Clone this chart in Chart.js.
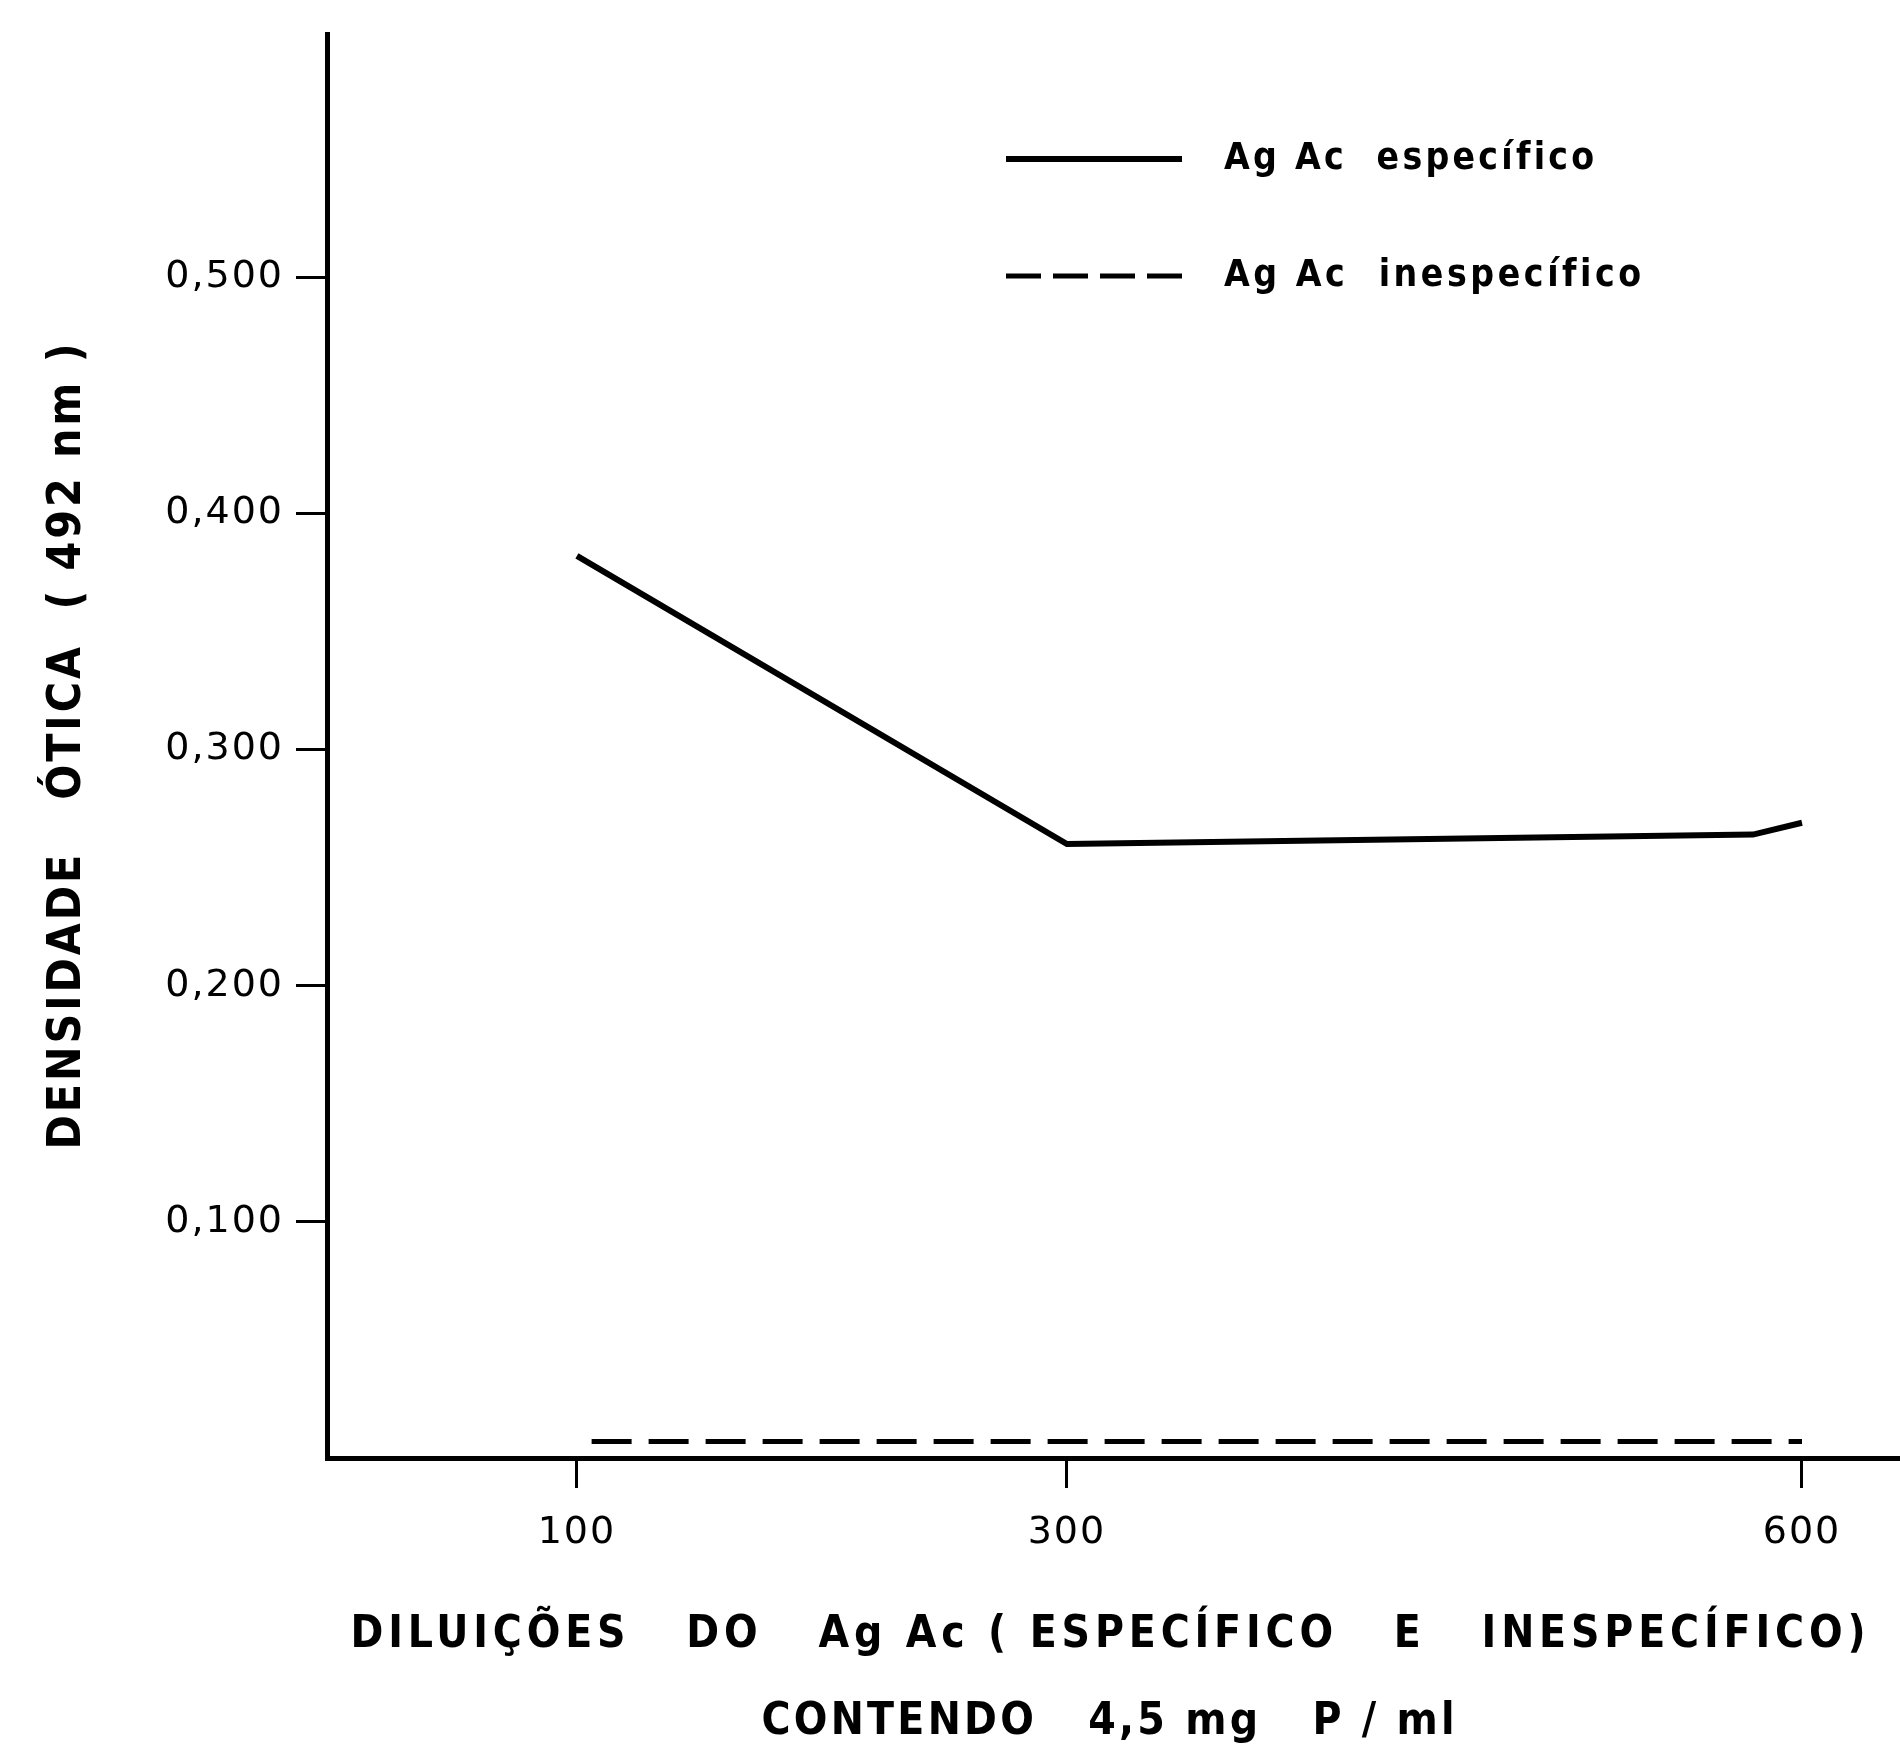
<!DOCTYPE html>
<html lang="pt">
<head>
    <meta charset="UTF-8">
    <title>Densidade ótica x diluições do Ag Ac</title>
    <script src="https://cdn.jsdelivr.net/npm/chart.js"></script>
    <style>
        html, body {
            margin: 0;
            padding: 0;
            background: #fff;
        }
        .container {
            position: relative;
            width: 1900px;
            height: 1748px;
        }
    </style>
</head>
<body>
    <div class="container">
        <canvas id="od-chart"></canvas>
    </div>

    <script>
        // Values
        const dilEspecifico = [100, 300, 580, 600];
        const odEspecifico = [0.382, 0.260, 0.264, 0.269];
        const dilInespecifico = [106, 300, 600];
        const odInespecifico = [0.007, 0.007, 0.007];

        const xTickValues = [100, 300, 600];
        const yTickValues = [0.1, 0.2, 0.3, 0.4, 0.5];

        const seriesLabels = ['Ag Ac  específico', 'Ag Ac  inespecífico'];
        const yTitle = 'DENSIDADE   ÓTICA  ( 492 nm )';
        const xTitle = ['DILUIÇÕES   DO   Ag Ac ( ESPECÍFICO   E   INESPECÍFICO)', 'CONTENDO   4,5 mg   P / ml'];

        const titleFont = 'bold 44px "DejaVu Sans Condensed", "DejaVu Sans", sans-serif';

        // draw text spread out to a given width (the original lettering is widely spaced)
        function spacedText(ctx, text, cx, cy, width, font, align) {
            ctx.save();
            ctx.font = font;
            ctx.letterSpacing = '0px';
            const plain = ctx.measureText(text).width;
            const gap = Math.max(0, (width - plain) / (text.length - 1));
            ctx.letterSpacing = gap + 'px';
            ctx.fillStyle = '#000';
            ctx.textBaseline = 'middle';
            ctx.textAlign = 'left';
            if (align === 'left') {
                ctx.fillText(text, cx, cy);
            } else {
                ctx.fillText(text, cx - width / 2, cy);
            }
            ctx.restore();
        }

        const paperText = {
            id: 'paperText',
            beforeDraw(chart) {
                chart.ctx.letterSpacing = '2px';
            },
            afterDraw(chart) {
                const ctx = chart.ctx;
                const area = chart.chartArea;

                // y axis title, rotated
                ctx.save();
                ctx.translate(68, (area.top + area.bottom) / 2);
                ctx.rotate(-Math.PI / 2);
                spacedText(ctx, yTitle, 0, 0, 806, 'bold 46px "DejaVu Sans Condensed", "DejaVu Sans", sans-serif');
                ctx.restore();

                // x axis title, two lines
                spacedText(ctx, xTitle[0], 1108, 1636, 1515, titleFont);
                spacedText(ctx, xTitle[1], 1108, 1723, 693, titleFont);

                // legend: short samples of each line, 4 dashes for the dashed one
                const rows = [159, 276];
                const widths = [369, 416];
                chart.data.datasets.forEach((ds, i) => {
                    ctx.save();
                    ctx.strokeStyle = ds.borderColor;
                    ctx.lineWidth = ds.borderWidth;
                    ctx.setLineDash(ds.borderDash ? [35, 12] : []);
                    ctx.beginPath();
                    ctx.moveTo(1006, rows[i]);
                    ctx.lineTo(1182, rows[i]);
                    ctx.stroke();
                    ctx.restore();
                    spacedText(ctx, ds.label, 1224, rows[i], widths[i], 'bold 37px "DejaVu Sans Condensed", "DejaVu Sans", sans-serif', 'left');
                });
            }
        };

        const tickFont = { family: '"DejaVu Sans", sans-serif', size: 38 };

        const ctx = document.getElementById('od-chart').getContext('2d');
        const odChart = new Chart(ctx, {
            type: 'line',
            data: {
                datasets: [
                    {
                        label: seriesLabels[0],
                        data: dilEspecifico.map((d, i) => ({ x: d, y: odEspecifico[i] })),
                        borderColor: '#000',
                        borderWidth: 6,
                        pointRadius: 0,
                        tension: 0,
                        fill: false
                    },
                    {
                        label: seriesLabels[1],
                        data: dilInespecifico.map((d, i) => ({ x: d, y: odInespecifico[i] })),
                        borderColor: '#000',
                        borderWidth: 5,
                        borderDash: [40, 17],
                        pointRadius: 0,
                        tension: 0,
                        fill: false
                    }
                ]
            },
            options: {
                responsive: true,
                maintainAspectRatio: false,
                animation: false,
                layout: { padding: { top: 32, right: 0, bottom: 0, left: 0 } },
                plugins: {
                    legend: { display: false },
                    tooltip: { enabled: false }
                },
                scales: {
                    x: {
                        type: 'linear',
                        min: -2,
                        max: 640,
                        afterBuildTicks: scale => { scale.ticks = xTickValues.map(v => ({ value: v })); },
                        afterFit: scale => { scale.height = 290; },
                        ticks: { color: '#000', font: tickFont, padding: 22, maxRotation: 0, callback: v => String(v) },
                        grid: { drawOnChartArea: false, drawTicks: true, tickLength: 30, tickWidth: 3, tickColor: '#000' },
                        border: { color: '#000', width: 5 }
                    },
                    y: {
                        min: 0,
                        max: 0.6027,
                        afterBuildTicks: scale => { scale.ticks = yTickValues.map(v => ({ value: v })); },
                        afterFit: scale => { scale.width = 327; },
                        ticks: { color: '#000', font: tickFont, padding: 12, callback: v => v.toFixed(3).replace('.', ',') },
                        grid: { drawOnChartArea: false, drawTicks: true, tickLength: 31, tickWidth: 3, tickColor: '#000' },
                        border: { color: '#000', width: 5 }
                    }
                }
            },
            plugins: [paperText]
        });
    </script>
</body>
</html>
